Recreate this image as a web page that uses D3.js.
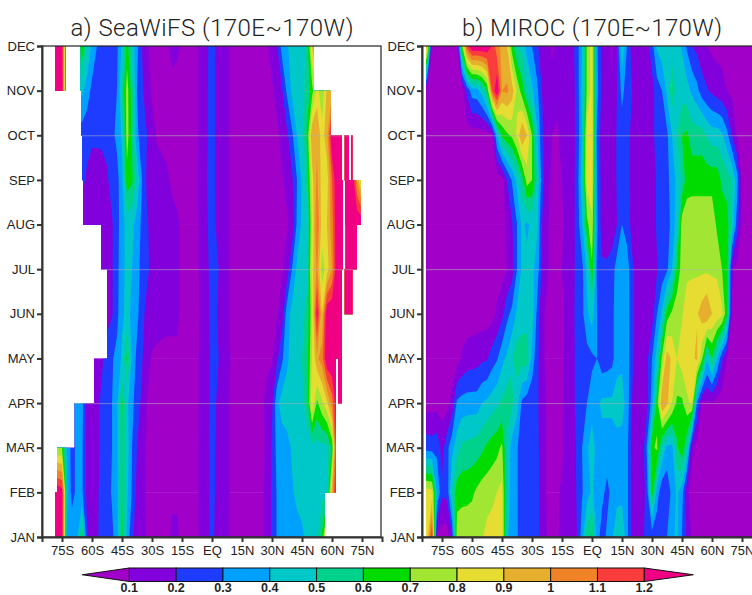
<!DOCTYPE html>
<html>
<head>
<meta charset="utf-8">
<script src="https://cdn.jsdelivr.net/npm/d3@7"></script>
<style>
  html, body { margin: 0; padding: 0; background: #fff; overflow: hidden; }
  text { font-family: "Liberation Sans", sans-serif; }
</style>
</head>
<body>
<svg id="chart" width="752" height="595"></svg>
<script>
'use strict'

const months = ['JAN', 'FEB', 'MAR', 'APR', 'MAY', 'JUN', 'JUL', 'AUG', 'SEP', 'OCT', 'NOV', 'DEC'];
const latTicks = [-75, -60, -45, -30, -15, 0, 15, 30, 45, 60, 75];
const latTickLabels = ['75S', '60S', '45S', '30S', '15S', 'EQ', '15N', '30N', '45N', '60N', '75N'];
const gridMonths = ['APR', 'JUL', 'OCT'];

/* contour levels and the fill of each band, lowest first */
const levels = [0.1, 0.2, 0.3, 0.4, 0.5, 0.6, 0.7, 0.8, 0.9, 1, 1.1, 1.2];
const levelColors = ['#a000c8', '#8200dc', '#1e3cff', '#00a0ff', '#00c8c8', '#00d28c', '#00dc00',
                     '#a0e632', '#e6dc32', '#e6af2d', '#f08228', '#fa3c3c', '#f00082'];

/* latitude of the first column and column step, values are chl per month at each latitude */
const firstLat = -85;
const latStep = 2.5;

/* SeaWiFS */
const aJan = [1.3,1.3,1.3,1.3,1.25,.38,.38,.38,.62,.22,
  .15,.18,.25,.25,.28,.35,.62,.38,.22,.15,
  .12,.09,.07,.07,.07,.08,.11,.11,.08,.07,
  .08,.09,.12,.16,.23,.16,.13,.11,.09,.08,
  .08,.07,.07,.08,.09,.12,.22,.31,.34,.35,
  .36,.37,.38,.43,.46,.48,.62,1,1.3,1.3,
  1.3,1.3,1.3,1.3,1.3,1.3,1.3,1.3,1.3];
const aFeb = [1.3,1.3,1.3,1.3,1.25,.42,.26,.33,.32,.17,
  .16,.18,.24,.26,.31,.36,.6,.42,.29,.17,
  .12,.09,.07,.07,.07,.08,.09,.09,.08,.07,
  .08,.09,.13,.17,.24,.17,.13,.11,.09,.08,
  .08,.07,.07,.08,.09,.12,.22,.31,.35,.36,
  .39,.42,.44,.45,.46,.47,.47,.46,.95,1.3,
  1.3,1.3,1.3,1.3,1.3,1.3,1.3,1.3,1.3];
const aMar = [.7,.7,.7,.7,.7,.38,.26,.33,.32,.17,
  .16,.17,.23,.26,.3,.38,.56,.45,.3,.2,
  .13,.09,.07,.07,.07,.08,.09,.09,.08,.07,
  .08,.09,.13,.17,.24,.18,.13,.11,.09,.08,
  .08,.07,.07,.08,.09,.11,.22,.33,.35,.37,
  .41,.43,.45,.46,.46,.46,.47,.47,.62,1.3,
  1.3,1.3,1.3,1.3,1.3,1.3,1.3,1.3,1.3];
const aApr = [.33,.33,.33,.33,.33,.33,.33,.33,.33,.17,
  .16,.17,.23,.26,.3,.37,.62,.42,.33,.24,
  .18,.1,.08,.07,.07,.08,.09,.09,.08,.07,
  .08,.09,.12,.16,.24,.19,.14,.11,.09,.08,
  .08,.07,.07,.09,.08,.13,.18,.38,.44,.45,
  .46,.47,.48,.53,.9,.68,.78,.88,1.05,1.3,
  1.3,1.3,1.3,1.3,1.3,1.3,1.3,1.3,1.3];
const aMay = [.15,.15,.15,.15,.15,.15,.15,.15,.15,.15,
  .15,.15,.18,.26,.29,.33,.42,.62,.38,.27,
  .21,.13,.09,.08,.07,.07,.08,.09,.08,.08,
  .08,.09,.12,.16,.24,.22,.16,.12,.09,.08,
  .08,.07,.07,.07,.07,.08,.09,.18,.28,.38,
  .44,.47,.5,.56,.8,.98,1.05,1.3,1.3,1.3,
  1.3,1.3,1.3,1.3,1.3,1.3,1.3,1.3,1.3];
const aJun = [.16,.16,.16,.16,.16,.16,.16,.16,.16,.16,
  .16,.16,.16,.16,.19,.27,.38,.43,.38,.33,
  .23,.17,.15,.14,.14,.13,.12,.11,.09,.08,
  .08,.09,.11,.16,.25,.2,.15,.11,.09,.08,
  .08,.07,.07,.07,.07,.08,.08,.09,.15,.36,
  .43,.45,.48,.52,.78,1.25,.9,1.3,1.3,1.3,
  1.3,1.3,1.3,1.3,1.3,1.3,1.3,1.3,1.3];
const aJul = [.15,.15,.15,.15,.15,.15,.15,.15,.15,.15,
  .15,.15,.15,.15,.19,.27,.36,.44,.4,.33,
  .27,.22,.17,.15,.14,.13,.12,.11,.09,.08,
  .08,.09,.12,.17,.26,.22,.16,.11,.09,.08,
  .08,.07,.07,.07,.07,.07,.08,.08,.09,.14,
  .3,.42,.44,.48,.85,1.02,.75,.85,1,1.3,
  1.3,1.3,1.3,1.3,1.3,1.3,1.3,1.3,1.3];
const aAug = [.15,.15,.15,.15,.15,.15,.15,.15,.15,.15,
  .15,.15,.15,.15,.19,.26,.36,.44,.43,.35,
  .28,.21,.17,.15,.14,.13,.12,.11,.09,.08,
  .08,.09,.13,.19,.25,.18,.14,.11,.09,.08,
  .08,.07,.07,.07,.07,.07,.08,.08,.08,.09,
  .13,.32,.42,.46,.8,1.1,.85,.9,1.05,1.3,
  1.3,1.3,1.3,1.3,1.3,1.3,1.3,1.3,1.3];
const aSep = [.22,.22,.22,.22,.22,.22,.22,.22,.22,.19,
  .15,.15,.16,.19,.23,.27,.36,.66,.62,.48,
  .3,.18,.15,.14,.13,.11,.09,.08,.08,.08,
  .08,.09,.14,.2,.25,.17,.13,.11,.09,.08,
  .08,.07,.07,.07,.07,.07,.08,.08,.09,.12,
  .18,.3,.41,.53,.85,1.02,.85,.85,1.1,1.3,
  1.3,1.3,1.3,1,.7,.7,.7,.7,.7];
const aOct = [.25,.25,.25,.25,.25,.25,.25,.25,.25,.22,
  .22,.22,.22,.22,.28,.32,.42,.75,.58,.32,
  .25,.2,.13,.09,.08,.08,.08,.08,.08,.08,
  .08,.09,.13,.19,.26,.17,.13,.11,.09,.08,
  .08,.07,.07,.07,.07,.07,.07,.08,.13,.18,
  .28,.4,.44,.62,.98,.98,.85,.96,1.3,1.3,
  1.3,1.3,1.3,1.3,1.3,1.3,1.3,1.3,1.3];
const aNov = [1.3,1.3,1.3,1.3,1.3,.35,.35,.4,.42,.36,
  .27,.25,.25,.25,.25,.3,.5,.75,.55,.3,
  .22,.14,.09,.08,.08,.08,.08,.08,.08,.08,
  .08,.09,.13,.19,.26,.17,.13,.11,.09,.08,
  .08,.07,.07,.07,.07,.08,.09,.13,.19,.32,
  .42,.44,.47,.53,.66,.85,.72,.92,.98,1.3,
  1.3,1.3,1.3,1.3,1.3,1.3,1.3,1.3,1.3];
const aDec = [1.3,1.3,1.3,1.3,1.25,.4,.4,.4,.68,.48,
  .38,.3,.26,.25,.26,.28,.42,.65,.46,.33,
  .2,.11,.08,.08,.08,.09,.12,.11,.09,.08,
  .08,.09,.13,.18,.26,.17,.13,.11,.09,.08,
  .08,.07,.07,.07,.09,.09,.13,.19,.34,.39,
  .43,.45,.46,.52,.9,1.2,1.3,1.3,1.3,1.3,
  1.3,1.3,1.3,1.3,1.3,1.3,1.3,1.3,1.3];

/* MIROC */
const bJan = [.85,.85,1.2,.07,.05,.05,.2,.75,.76,.77,
  .78,.78,.79,.83,.85,.85,.86,.42,.35,.31,
  .25,.24,.24,.24,.16,.1,.08,.09,.12,.13,
  .14,.2,.35,.55,.62,.35,.25,.32,.38,.48,
  .5,.33,.18,.13,.13,.3,.24,.23,.22,.3,
  .38,.42,.3,.18,.09,.06,.06,.06,.06,.06,
  .06,.06,.06,.06,.06,.06,.06,.06,.06];
const bFeb = [.85,.85,.84,.4,.22,.23,.5,.66,.67,.67,
  .68,.72,.75,.76,.77,.8,.83,.46,.36,.31,
  .24,.24,.24,.24,.15,.09,.08,.09,.11,.12,
  .14,.21,.29,.36,.42,.35,.33,.27,.33,.36,
  .36,.33,.18,.13,.13,.25,.66,.35,.23,.23,
  .33,.42,.34,.12,.06,.06,.06,.06,.06,.06,
  .06,.06,.06,.06,.06,.06,.06,.06,.06];
const bMar = [.26,.26,.25,.27,.16,.27,.37,.45,.52,.53,
  .54,.55,.58,.62,.65,.67,.72,.48,.36,.31,
  .24,.23,.23,.23,.15,.09,.08,.08,.09,.12,
  .14,.22,.3,.38,.46,.35,.36,.36,.36,.36,
  .36,.33,.17,.14,.13,.32,.68,.72,.48,.37,
  .37,.58,.68,.5,.12,.06,.06,.06,.06,.06,
  .06,.06,.06,.06,.06,.06,.06,.06,.06];
const bApr = [.06,.06,.06,.06,.06,.06,.13,.32,.34,.35,
  .35,.35,.4,.42,.45,.48,.52,.55,.52,.44,
  .28,.24,.23,.22,.15,.09,.08,.08,.09,.12,
  .15,.24,.26,.3,.35,.38,.42,.42,.42,.45,
  .44,.36,.2,.15,.13,.17,.35,.65,1,.92,
  .8,.68,.68,.78,.82,.3,.09,.08,.09,.06,
  .05,.05,.05,.05,.05,.05,.05,.05,.05];
const bMay = [.05,.05,.05,.05,.05,.05,.05,.06,.11,.14,
  .15,.16,.18,.19,.25,.29,.37,.42,.49,.55,
  .55,.55,.36,.24,.12,.08,.08,.08,.09,.12,
  .15,.24,.25,.26,.28,.3,.24,.25,.27,.36,
  .38,.36,.22,.15,.13,.18,.3,.45,.72,.95,
  .88,.8,.85,.87,.88,.92,.72,.42,.6,.4,
  .22,.1,.06,.05,.05,.05,.05,.05,.05];
const bJun = [.05,.05,.05,.05,.05,.05,.05,.05,.05,.05,
  .05,.05,.05,.05,.06,.12,.17,.27,.33,.42,
  .46,.46,.46,.28,.11,.09,.08,.08,.09,.12,
  .15,.25,.27,.38,.45,.3,.24,.25,.27,.36,
  .38,.37,.22,.16,.14,.13,.15,.3,.42,.65,
  .72,.77,.79,.85,.87,.89,.95,1,.9,.87,
  .83,.62,.08,.06,.05,.05,.05,.05,.05];
const bJul = [.05,.05,.05,.05,.05,.05,.05,.05,.05,.05,
  .05,.05,.05,.05,.05,.05,.06,.1,.15,.3,
  .42,.43,.42,.36,.19,.11,.08,.08,.1,.13,
  .15,.24,.27,.42,.68,.27,.22,.22,.25,.35,
  .38,.36,.22,.17,.14,.13,.13,.19,.24,.28,
  .4,.62,.75,.78,.78,.78,.78,.78,.78,.78,
  .7,.65,.12,.06,.05,.05,.05,.05,.05];
const bAug = [.05,.05,.05,.05,.05,.05,.05,.05,.05,.05,
  .05,.05,.05,.05,.05,.05,.06,.12,.19,.3,
  .42,.38,.43,.42,.2,.11,.08,.08,.09,.12,
  .15,.24,.38,.67,.78,.32,.15,.13,.14,.2,
  .3,.25,.17,.14,.14,.14,.13,.22,.24,.26,
  .33,.45,.75,.77,.77,.77,.77,.77,.77,.68,
  .66,.65,.48,.25,.07,.05,.05,.05,.05];
const bSep = [.05,.05,.05,.05,.05,.05,.05,.05,.05,.05,
  .05,.05,.05,.05,.05,.05,.06,.2,.31,.43,
  .55,.75,.7,.5,.25,.12,.09,.09,.1,.12,
  .15,.24,.45,.85,.85,.3,.16,.13,.13,.21,
  .24,.24,.16,.14,.14,.14,.14,.22,.24,.26,
  .36,.42,.52,.65,.66,.66,.66,.66,.66,.66,
  .58,.55,.5,.35,.07,.06,.05,.05,.05];
const bOct = [.05,.05,.05,.05,.05,.05,.05,.05,.05,.05,
  .05,.05,.05,.05,.07,.4,.62,.68,.72,.82,
  1,.9,.7,.42,.22,.14,.1,.09,.12,.13,
  .15,.23,.4,.85,.88,.28,.15,.13,.13,.21,
  .25,.24,.17,.14,.14,.14,.17,.24,.25,.28,
  .4,.5,.6,.62,.55,.55,.55,.49,.45,.45,
  .42,.33,.2,.09,.06,.06,.05,.05,.05];
const bNov = [.05,.08,.05,.05,.05,.05,.05,.05,.06,.22,
  .35,.36,.44,.6,1.1,1.3,1,1.02,.95,.78,
  .65,.5,.42,.33,.2,.13,.12,.12,.12,.12,
  .16,.23,.42,.72,.85,.34,.17,.13,.1,.2,
  .33,.25,.2,.13,.12,.11,.16,.25,.3,.42,
  .56,.47,.46,.44,.38,.33,.25,.21,.18,.15,
  .13,.1,.08,.07,.06,.05,.05,.05,.05];
const bDec = [.95,.95,.06,.05,.05,.05,.05,.07,.7,1.15,
  1.3,1.3,1.3,1.3,1.2,1.03,.98,.9,.65,.5,
  .47,.36,.3,.22,.15,.12,.09,.11,.12,.13,
  .16,.25,.4,.72,.85,.32,.17,.12,.09,.2,
  .48,.3,.15,.13,.12,.16,.26,.42,.46,.46,
  .46,.45,.39,.28,.2,.17,.13,.1,.08,.07,
  .07,.07,.07,.07,.07,.07,.07,.07,.07];

const seawifsRows = [aJan, aFeb, aMar, aApr, aMay, aJun, aJul, aAug, aSep, aOct, aNov, aDec];
const mirocRows = [bJan, bFeb, bMar, bApr, bMay, bJun, bJul, bAug, bSep, bOct, bNov, bDec];

/* SeaWiFS has data only in these latitude ranges, one list per month interval, JAN-FEB first */
const seawifsCoverage = [
  [[-78.5, 56.5]],
  [[-77.5, 62]],
  [[-68.7, 62]],
  [[-59, 62], [63, 65]],
  [[-52.5, 65]],
  [[-52.5, 65], [66.3, 70.3]],
  [[-55.5, 65.5], [66.7, 72.5]],
  [[-64.5, 65.5], [66.5, 74.5]],
  [[-65, 65], [66.3, 68.5], [69.5, 70.3]],
  [[-65.5, 59.5]],
  [[-78.5, -73.3], [-66, 51]]
];
const mirocCoverage = months.slice(1).map(() => [[-83, 85]]);

const plotTop = 46;
const plotBottom = 537;

const svg = d3.select('#chart');

function drawPanel (id, title, rows, coverage, left, titleSpan) {
    const xScale = d3.scaleLinear().domain([-85, 85]).range([left, left + 340]);
    const yScale = d3.scalePoint().domain(months).range([plotBottom, plotTop]);
    const monthStep = yScale.step();

    const panel = svg.append('g').attr('id', id);

    /* clip made of the month bands that hold data */
    const bands = coverage.flatMap((ranges, m) => ranges.map(r => ({m: m, lat0: r[0], lat1: r[1]})));
    const clip = panel.append('clipPath').attr('id', id + '-clip');
    clip.selectAll('rect')
        .data(bands)
        .enter()
        .append('rect')
        .attr('x', d => xScale(d.lat0))
        .attr('width', d => xScale(d.lat1) - xScale(d.lat0))
        .attr('y', d => yScale(months[d.m + 1]))
        .attr('height', monthStep + 0.4);

    /* grid cell centres sit at +0.5 in d3.contours */
    const toPlot = d3.geoTransform({
        point: function (x, y) {
            this.stream.point(xScale(firstLat + (x - 0.5) * latStep), plotBottom - (y - 0.5) * monthStep);
        }
    });
    const path = d3.geoPath(toPlot);

    const nCols = rows[0].length;
    const values = rows.flat();
    const contours = d3.contours().size([nCols, rows.length]).thresholds(levels)(values);

    const fields = panel.append('g').attr('clip-path', 'url(#' + id + '-clip)');

    fields.selectAll('rect')
        .data(bands)
        .enter()
        .append('rect')
        .attr('x', d => xScale(d.lat0))
        .attr('width', d => xScale(d.lat1) - xScale(d.lat0))
        .attr('y', d => yScale(months[d.m + 1]))
        .attr('height', monthStep + 0.4)
        .style('fill', levelColors[0]);

    fields.selectAll('path')
        .data(contours)
        .enter()
        .append('path')
        .attr('d', path)
        .style('fill', (d, i) => levelColors[i + 1]);

    fields.selectAll('line')
        .data(gridMonths)
        .enter()
        .append('line')
        .attr('x1', left)
        .attr('x2', left + 340)
        .attr('y1', d => yScale(d) + 0.5)
        .attr('y2', d => yScale(d) + 0.5)
        .style('stroke', '#b0b0b0')
        .style('stroke-opacity', 0.55)
        .style('stroke-width', 1);

    /* frame */
    panel.append('rect')
        .attr('x', left)
        .attr('y', plotTop)
        .attr('width', 339)
        .attr('height', plotBottom - plotTop)
        .style('fill', 'none')
        .style('stroke', '#222')
        .style('stroke-width', 1.2);

    const xAxis = d3.axisBottom(xScale)
        .tickValues(latTicks)
        .tickFormat((d, i) => latTickLabels[i])
        .tickSize(5)
        .tickPadding(4);
    const yAxis = d3.axisLeft(yScale)
        .tickSize(5)
        .tickPadding(2);

    panel.append('g')
        .attr('class', 'axis')
        .attr('transform', 'translate(0,' + plotBottom + ')')
        .call(xAxis);
    panel.append('g')
        .attr('class', 'axis')
        .attr('transform', 'translate(' + left + ',0)')
        .call(yAxis);

    panel.selectAll('.axis text')
        .style('font-size', '13px')
        .style('fill', '#222');
    panel.selectAll('.axis path, .axis line')
        .style('stroke', '#333')
        .style('stroke-width', 2);

    panel.append('text')
        .attr('x', left + 170)
        .attr('y', 36)
        .attr('text-anchor', 'middle')
        .attr('textLength', titleSpan)
        .attr('lengthAdjust', 'spacing')
        .style('font-family', 'Roboto, sans-serif')
        .style('font-weight', 300)
        .style('font-size', '24px')
        .style('fill', '#222')
        .text(title);
}

drawPanel('panel-a', 'a) SeaWiFS (170E~170W)', seawifsRows, seawifsCoverage, 42, 283);
drawPanel('panel-b', 'b) MIROC (170E~170W)', mirocRows, mirocCoverage, 422, 260);

/* colour bar */
const barX = d3.scaleLinear().domain([0.1, 1.2]).range([129.3, 644.3]);
const barTop = 568;
const barBottom = 581.5;
const barMid = (barTop + barBottom) / 2;
const bar = svg.append('g').attr('id', 'colorbar');

bar.selectAll('rect')
    .data(d3.pairs(levels))
    .enter()
    .append('rect')
    .attr('x', d => barX(d[0]))
    .attr('y', barTop)
    .attr('width', d => barX(d[1]) - barX(d[0]))
    .attr('height', barBottom - barTop)
    .style('fill', (d, i) => levelColors[i + 1])
    .style('stroke', '#111')
    .style('stroke-width', 1);

const arrowLength = 47;
bar.append('polygon')
    .attr('points', [[barX(0.1), barTop], [barX(0.1) - arrowLength, barMid], [barX(0.1), barBottom]].join(' '))
    .style('fill', levelColors[0])
    .style('stroke', '#111');
bar.append('polygon')
    .attr('points', [[barX(1.2), barTop], [barX(1.2) + arrowLength + 2, barMid], [barX(1.2), barBottom]].join(' '))
    .style('fill', levelColors[12])
    .style('stroke', '#111');

bar.selectAll('text')
    .data(levels)
    .enter()
    .append('text')
    .attr('x', d => barX(d))
    .attr('y', 592)
    .attr('text-anchor', 'middle')
    .style('font-size', '12.5px')
    .style('font-weight', 'bold')
    .style('fill', '#222')
    .text(d => d);
</script>
</body>
</html>
